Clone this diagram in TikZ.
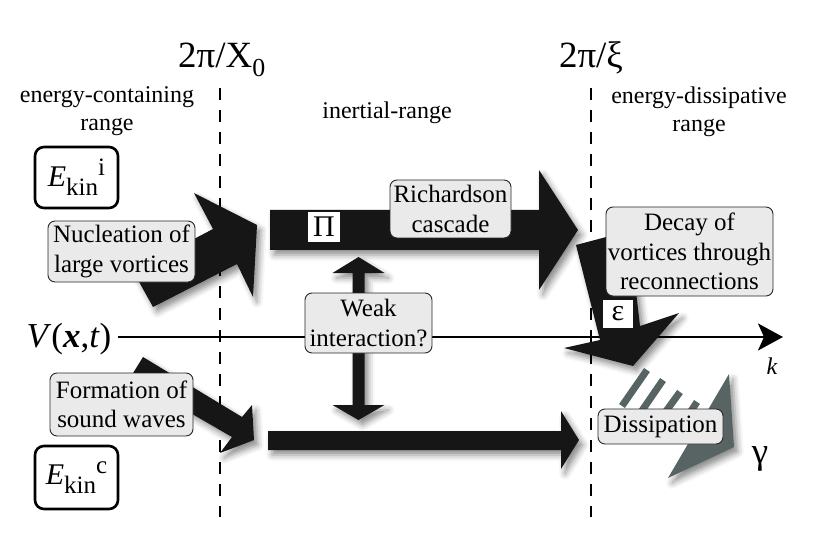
\documentclass[tikz,border=0pt]{standalone}
\usepackage{fontspec}
\setmainfont{Liberation Serif}
\usetikzlibrary{shadows.blur,arrows.meta}
\definecolor{arrowblack}{RGB}{22,22,22}
\definecolor{boxfill}{RGB}{234,234,234}
\definecolor{dissgray}{RGB}{88,100,100}
\tikzset{
  softshadow/.style={blur shadow={shadow xshift=4pt,shadow yshift=-5pt,shadow blur radius=6pt,shadow opacity=45}},
  bigarrow/.style={fill=arrowblack,draw=none,softshadow},
  grayshape/.style={fill=dissgray,draw=none,softshadow},
  graybar/.style={draw=dissgray,line width=7pt},
  labelbox/.style={draw=black!85,line width=0.9pt,fill=boxfill,rounded corners=7pt,align=center,inner sep=0pt,font=\fontsize{25}{29.5}\selectfont},
  ebox/.style={draw=black,line width=2.6pt,fill=white,rounded corners=9pt,inner sep=0pt,minimum width=83pt},
  whitelabel/.style={fill=white,inner sep=0pt,font=\fontsize{30}{30}\selectfont},
  rangetext/.style={align=center,inner sep=0pt,font=\fontsize{24}{28}\selectfont},
  divider/.style={dash pattern=on 12pt off 10pt,line width=1.7pt},
  bigtext/.style={inner sep=0pt,font=\fontsize{37}{40}\selectfont},
  axisline/.style={line width=2pt,-{Stealth[length=25pt,width=27pt,inset=6pt]}},
}
\newcommand{\Ekin}[1]{\fontsize{30}{30}\selectfont\textit{E}\raisebox{-9pt}{\fontsize{25}{25}\selectfont kin}\raisebox{11pt}{\fontsize{25}{25}\selectfont #1}}
\begin{document}
\begin{tikzpicture}[x=1pt,y=-1pt]
\useasboundingbox (0,0) rectangle (822,548);
% dividers
\coordinate (d1t) at (220,88); \coordinate (d1b) at (220,517);
\coordinate (d2t) at (591,88); \coordinate (d2b) at (591,517);
\draw[divider] (d1t) -- (d1b);
\draw[divider] (d2t) -- (d2b);
% headings
\node[bigtext,anchor=base] (kx) at (222,68) {2π/X\textsubscript{0}};
\node[bigtext,anchor=base] (kxi) at (591,68) {2π/ξ};
\node[rangetext] (r1) at (107,111.5) {energy-containing\\range};
\node[rangetext,anchor=base] (r2) at (387,119) {inertial-range};
\node[rangetext] (r3) at (699,111.5) {energy-dissipative\\range};
% axis
\node[inner sep=0pt,font=\fontsize{35}{35}\selectfont] (V) at (69,339) {\textit{V}(\textbf{\textit{x}},\textit{t})};
\coordinate (kend) at (783,337);
\draw[axisline] (V.east |- kend) ++(6,0) -- (kend);
\node[inner sep=0pt,font=\fontsize{24}{24}\selectfont,anchor=base] (k) at (772,374) {\textit{k}};
% black arrows
\fill[bigarrow] (133,271) -- (213,229) -- (194,193) -- (257,225) -- (253,297) -- (237,264) -- (153,307) -- cycle;
\fill[bigarrow] (270,210) -- (539,210) -- (539,170) -- (578,230) -- (539,290) -- (539,250) -- (270,250) -- cycle;
\fill[bigarrow] (143,357) -- (242,417) -- (252,405) -- (254,440) -- (220,453) -- (232,437) -- (130,378) -- cycle;
\fill[bigarrow] (268,431) -- (561,431) -- (561,411) -- (579,440) -- (561,469) -- (561,450) -- (268,450) -- cycle;
\fill[bigarrow] (352.5,273) -- (332.5,273) -- (358.5,257) -- (384.5,273) -- (364.5,273) -- (364.5,405) -- (384.5,405) -- (358.5,420) -- (332.5,405) -- (352.5,405) -- cycle;
\fill[bigarrow] (576,245) -- (629,231) -- (640,326) -- (679,313) -- (633,366) -- (564,348) -- (600,340) -- cycle;
% dissipation
\draw[graybar] (647,370) -- (622,406);
\draw[graybar] (663,380) -- (641,412);
\draw[graybar] (680,392) -- (664,414);
\draw[graybar] (697,402) -- (689,414);
\fill[grayshape] (729,374) -- (734,447) -- (668,478) -- cycle;
% labels on arrows
\node[whitelabel,minimum width=32pt,minimum height=30pt] (Pi) at (324,227) {Π};
\node[whitelabel,minimum width=30pt,minimum height=28pt] (eps) at (618,314) {ε};
% text boxes
\node[labelbox,minimum width=147pt,minimum height=61pt] (nuc) at (121.5,251.5) {Nucleation of\\large vortices};
\node[labelbox,minimum width=143pt,minimum height=63pt] (form) at (121.5,404.5) {Formation of\\sound waves};
\node[labelbox,minimum width=121pt,minimum height=58pt] (rich) at (450.5,209) {Richardson\\cascade};
\node[labelbox,minimum width=127pt,minimum height=60pt] (weak) at (368.5,323) {Weak\\interaction?};
\node[labelbox,minimum width=167pt,minimum height=89pt] (decay) at (689.5,251.5) {Decay of\\vortices through\\reconnections};
\node[labelbox,minimum width=125pt,minimum height=35pt] (diss) at (660.5,426.5) {Dissipation};
\node[ebox,minimum height=61pt] (Ei) at (76.5,177.5) {\Ekin{i}};
\node[ebox,minimum height=63pt] (Ec) at (76.5,477.5) {\Ekin{c}};
\node[bigtext] (gam) at (760,459) {γ};
\end{tikzpicture}
\end{document}
